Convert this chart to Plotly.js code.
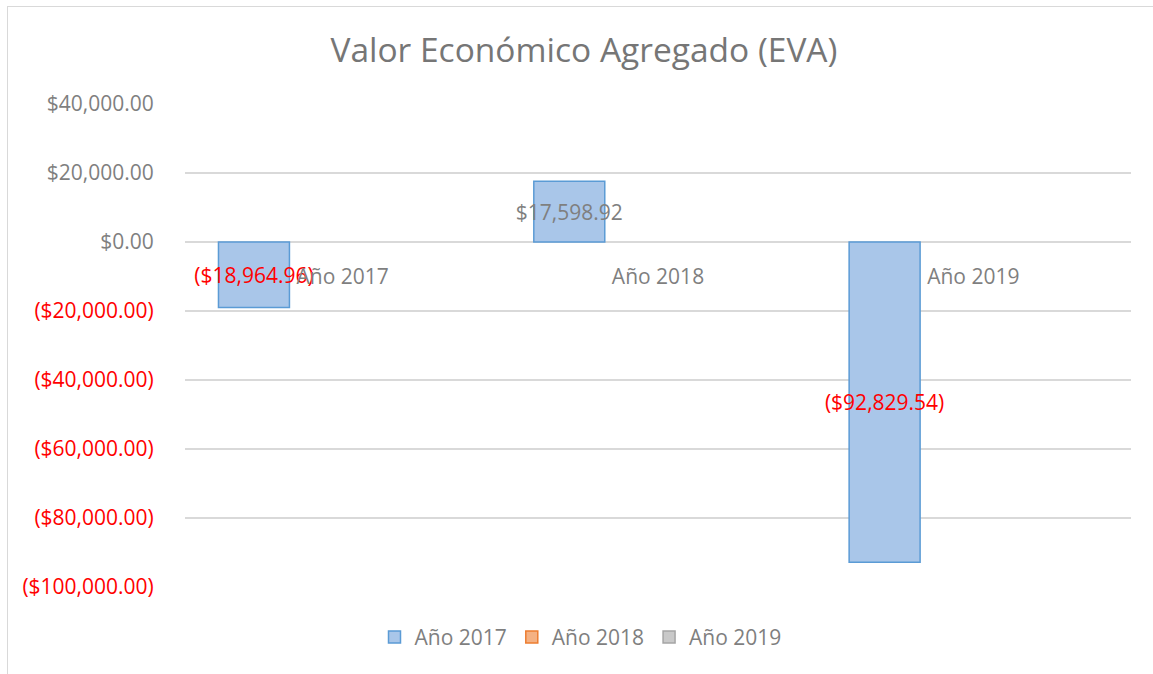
<!DOCTYPE html>
<html>
<head>
<meta charset="utf-8">
<script src="https://cdn.plot.ly/plotly-3.0.1.min.js"></script>
<style>
  html, body { margin: 0; padding: 0; background: #fff; width: 1153px; height: 674px; overflow: hidden; }
  #frame { position: absolute; left: 7px; top: 6px; width: 1146px; height: 668px;
           border-left: 1px solid #d9d9d9; border-top: 1px solid #d9d9d9; box-sizing: border-box; }
  #chart { position: absolute; left: 8px; top: 7px; width: 1145px; height: 667px; }
</style>
</head>
<body>
<div id="frame"></div>
<div id="chart"></div>
<script>
// ---- data ----
const categories = ['Año 2017', 'Año 2018', 'Año 2019'];
const seriesNames = ['Año 2017', 'Año 2018', 'Año 2019'];
const eva2017 = [-18964.96, 17598.92, -92829.54];
const eva2018 = [null, null, null];
const eva2019 = [null, null, null];
const yTickVals = [40000, 20000, 0, -20000, -40000, -60000, -80000, -100000];

// ---- helpers ----
function money(v) {
  const s = '$' + Math.abs(v).toLocaleString('en-US', {minimumFractionDigits: 2, maximumFractionDigits: 2});
  return v < 0 ? '(' + s + ')' : s;
}
const RED = '#FF0000';
const GRAY = '#7F7F7F';
const FONT = 'Open Sans, Noto Sans, sans-serif';

const yTickText = yTickVals.map(v => v < 0 ? '<span style="color:' + RED + '">' + money(v) + '</span>' : money(v));

const traces = [
  {
    type: 'bar', name: seriesNames[0], x: categories, y: eva2017,
    marker: { color: '#A9C6E9', line: { color: '#5B9BD5', width: 1.5 } },
    text: eva2017.map(money),
    textposition: 'inside', insidetextanchor: 'middle', constraintext: 'none', textangle: 0,
    textfont: { family: FONT, size: 21, color: eva2017.map(v => v < 0 ? RED : GRAY) },
    hoverinfo: 'skip'
  },
  {
    type: 'bar', name: seriesNames[1], x: categories, y: eva2018,
    marker: { color: '#F4B183', line: { color: '#ED7D31', width: 1.5 } }, hoverinfo: 'skip'
  },
  {
    type: 'bar', name: seriesNames[2], x: categories, y: eva2019,
    marker: { color: '#C9C9C9', line: { color: '#A5A5A5', width: 1.5 } }, hoverinfo: 'skip'
  }
];

const layout = {
  width: 1145, height: 667,
  margin: { l: 177, r: 22, t: 97, b: 87 },
  paper_bgcolor: '#ffffff', plot_bgcolor: '#ffffff',
  font: { family: FONT, size: 21, color: GRAY },
  title: { text: 'Valor Económico Agregado (EVA)', font: { family: FONT, size: 33.5, color: '#767676' },
           xref: 'container', x: 0.503, xanchor: 'center', yref: 'container', y: 0.935, yanchor: 'middle' },
  barmode: 'group', bargap: 0.156, bargroupgap: 0.2,
  showlegend: true,
  legend: { orientation: 'h', xref: 'container', x: 0.5, xanchor: 'center', yref: 'container', y: 0.055, yanchor: 'middle',
            font: { family: FONT, size: 21, color: GRAY }, traceorder: 'normal' },
  xaxis: {
    type: 'category', range: [-0.5, 2.5], anchor: 'free', position: 100000 / 140000,
    showline: false, showgrid: false, zeroline: false,
    ticks: 'outside', ticklen: 16, tickcolor: 'rgba(0,0,0,0)',
    tickfont: { family: FONT, size: 21, color: GRAY }, fixedrange: true
  },
  yaxis: {
    range: [-100000, 40000], tickvals: yTickVals, ticktext: yTickText,
    showgrid: true, gridcolor: '#D9D9D9', gridwidth: 1.5, zeroline: false, showline: false,
    ticks: 'outside', ticklen: 26, tickcolor: 'rgba(0,0,0,0)',
    tickfont: { family: FONT, size: 21, color: GRAY }, fixedrange: true
  }
};

Plotly.newPlot('chart', traces, layout, { staticPlot: true, displayModeBar: false });
</script>
</body>
</html>
